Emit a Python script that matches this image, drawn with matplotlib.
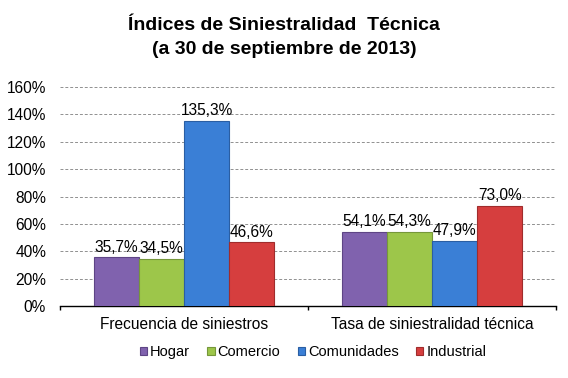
import matplotlib

matplotlib.use("Agg")
import matplotlib.pyplot as plt
import numpy as np
from matplotlib.ticker import FixedLocator

plt.rcParams["font.family"] = ["Liberation Sans", "DejaVu Sans"]

categories = ["Frecuencia de siniestros", "Tasa de siniestralidad técnica"]
series = ["Hogar", "Comercio", "Comunidades", "Industrial"]
values = {
    "Hogar": [35.7, 54.1],
    "Comercio": [34.5, 54.3],
    "Comunidades": [135.3, 47.9],
    "Industrial": [46.6, 73.0],
}
colors = ["#8062AE", "#9DC64A", "#3A7FD6", "#D63E3E"]
edges = ["#5E4585", "#76973A", "#2A5EA3", "#A02C2C"]
yticks = [0, 20, 40, 60, 80, 100, 120, 140, 160]

fig = plt.figure(figsize=(5.68, 3.78), dpi=100)
ax = fig.add_axes([0.1056, 0.190, 0.8734, 0.580])

x = np.arange(len(categories))
width = 0.182
offsets = (np.arange(len(series)) - 1.5) * width
for i, name in enumerate(series):
    bars = ax.bar(x + offsets[i], values[name], width, color=colors[i],
                  edgecolor=edges[i], linewidth=0.8, label=name, zorder=3)
    for b, v in zip(bars, values[name]):
        ax.text(b.get_x() + b.get_width() / 2, v + 2.0,
                f"{v:.1f}%".replace(".", ","), ha="center", va="bottom",
                fontsize=11.2, zorder=4)

ax.set_xlim(-0.5, 1.5)
ax.set_ylim(0, 160)
ax.set_yticks(yticks)
ax.set_yticklabels([f"{t}%" for t in yticks], fontsize=11.2)
ax.set_xticks(x)
ax.set_xticklabels(categories, fontsize=11.2)
ax.xaxis.set_minor_locator(FixedLocator([-0.5, 0.5, 1.5]))
ax.tick_params(axis="x", which="major", length=0, pad=8)
ax.tick_params(axis="x", which="minor", length=3, width=1, color="black")
ax.tick_params(axis="y", length=0, pad=10)
ax.yaxis.grid(True, color="#909090", linestyle=(0, (3, 2)), linewidth=0.7, zorder=0)
for side in ["left", "right", "top"]:
    ax.spines[side].set_visible(False)
ax.spines["bottom"].set_color("black")
ax.spines["bottom"].set_linewidth(1)

fig.text(0.5, 1 - 25 / 378, "Índices de Siniestralidad  Técnica",
         ha="center", va="center", fontsize=14, fontweight="bold")
fig.text(0.5, 1 - 50 / 378, "(a 30 de septiembre de 2013)",
         ha="center", va="center", fontsize=14, fontweight="bold")

ax.legend(loc="center", bbox_to_anchor=(0.51, -0.21), ncol=4, frameon=False,
          fontsize=10.5, handlelength=0.5, handleheight=0.5, handletextpad=0.2,
          columnspacing=1.2)

fig.savefig("out.png", dpi=100)
